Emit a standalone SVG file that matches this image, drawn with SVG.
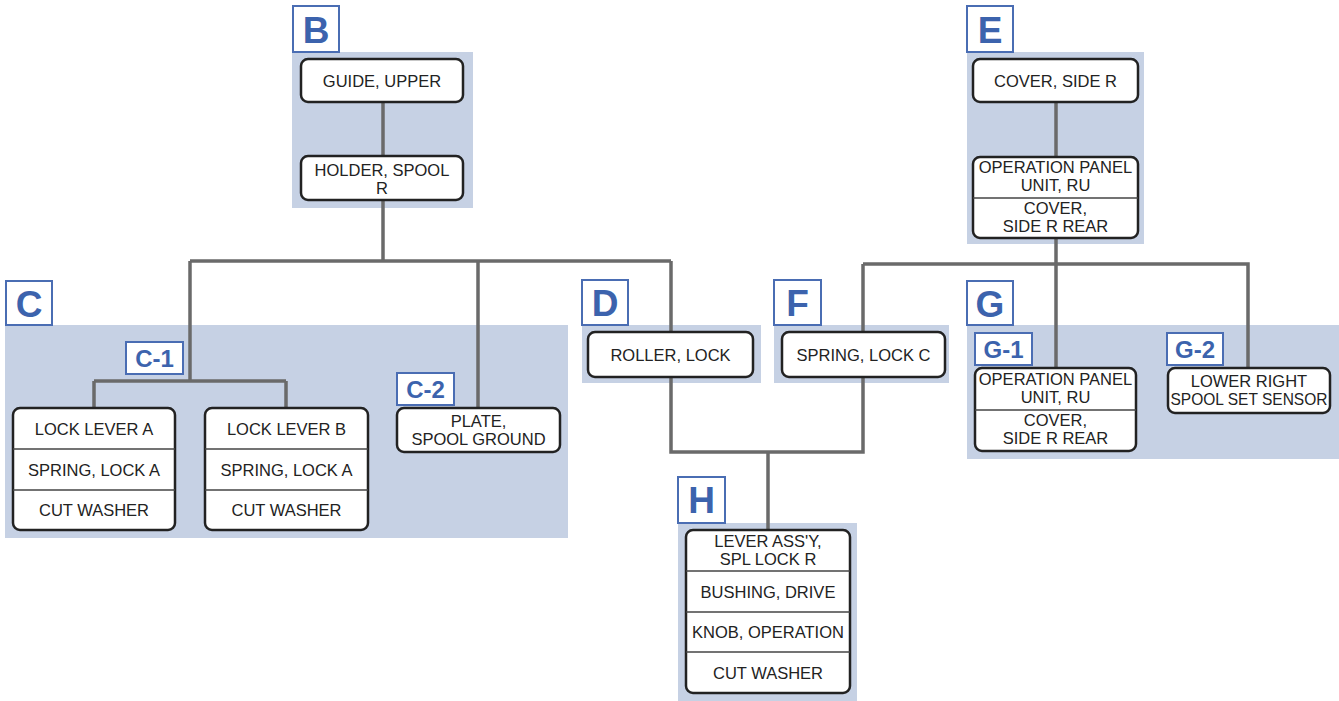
<svg xmlns="http://www.w3.org/2000/svg" width="1339" height="701" viewBox="0 0 1339 701">
  <style>
    .panel { fill: #c6d1e4; }
    .tag { fill: #ffffff; stroke: #4a6db3; stroke-width: 2; }
    .tagtxt { font-family: "Liberation Sans", Arial, sans-serif; font-weight: bold; fill: #3c63ad; text-anchor: middle; }
    .big { font-size: 37px; }
    .small { font-size: 24px; }
    .box { fill: #ffffff; stroke: #222222; stroke-width: 2.5; }
    .div { stroke: #444444; stroke-width: 1.5; }
    .txt { font-family: "Liberation Sans", Arial, sans-serif; font-size: 16.5px; fill: #222222; text-anchor: middle; }
    .wire { fill: none; stroke: #6a6a6a; stroke-width: 3.5; }
  </style>

  <!-- group backgrounds -->
  <g id="panels">
    <rect class="panel" x="292" y="52" width="181" height="156"/>
    <rect class="panel" x="5" y="325" width="563" height="213"/>
    <rect class="panel" x="582" y="325" width="179" height="58"/>
    <rect class="panel" x="774" y="325" width="175" height="58"/>
    <rect class="panel" x="967" y="52" width="177" height="192"/>
    <rect class="panel" x="967" y="325" width="372" height="134"/>
    <rect class="panel" x="678" y="523" width="179" height="178"/>
  </g>

  <!-- connectors -->
  <g id="connectors">
    <path class="wire" d="M383 102 V156"/>
    <path class="wire" d="M383 200 V261"/>
    <path class="wire" d="M190 261 H671"/>
    <path class="wire" d="M190 261 V381"/>
    <path class="wire" d="M94 381 H286"/>
    <path class="wire" d="M94 381 V408 M286 381 V408"/>
    <path class="wire" d="M478 261 V408"/>
    <path class="wire" d="M671 261 V332"/>
    <path class="wire" d="M671 377 V452 H863 V377"/>
    <path class="wire" d="M768 452 V530"/>
    <path class="wire" d="M1056 102 V157"/>
    <path class="wire" d="M1056 238 V368"/>
    <path class="wire" d="M863 264 H1248 V368"/>
    <path class="wire" d="M863 264 V332"/>
  </g>

  <!-- section tags -->
  <g id="tag-B"><rect class="tag" x="293" y="6" width="46" height="46"/><text class="tagtxt big" x="316" y="43">B</text></g>
  <g id="tag-C"><rect class="tag" x="6" y="281" width="46" height="44"/><text class="tagtxt big" x="29" y="317">C</text></g>
  <g id="tag-C1"><rect class="tag" x="126" y="342" width="57" height="32"/><text class="tagtxt small" x="154.5" y="367">C-1</text></g>
  <g id="tag-C2"><rect class="tag" x="397" y="373" width="57" height="32"/><text class="tagtxt small" x="425.5" y="398">C-2</text></g>
  <g id="tag-D"><rect class="tag" x="582" y="280" width="46" height="45"/><text class="tagtxt big" x="605" y="316">D</text></g>
  <g id="tag-F"><rect class="tag" x="774" y="280" width="47" height="45"/><text class="tagtxt big" x="797.5" y="316">F</text></g>
  <g id="tag-E"><rect class="tag" x="967" y="6" width="46" height="46"/><text class="tagtxt big" x="990" y="43">E</text></g>
  <g id="tag-G"><rect class="tag" x="967" y="281" width="46" height="44"/><text class="tagtxt big" x="990" y="317">G</text></g>
  <g id="tag-G1"><rect class="tag" x="975" y="333" width="57" height="32"/><text class="tagtxt small" x="1003.5" y="358">G-1</text></g>
  <g id="tag-G2"><rect class="tag" x="1167" y="333" width="56" height="32"/><text class="tagtxt small" x="1195" y="358">G-2</text></g>
  <g id="tag-H"><rect class="tag" x="678" y="477" width="47" height="46"/><text class="tagtxt big" x="701.5" y="513">H</text></g>

  <!-- part boxes -->
  <g id="guide-upper">
    <rect class="box" x="301" y="59" width="162" height="43" rx="7"/>
    <text class="txt" x="382" y="87">GUIDE, UPPER</text>
  </g>
  <g id="holder-spool-r">
    <rect class="box" x="301" y="156" width="162" height="44" rx="7"/>
    <text class="txt" x="382" y="176">HOLDER, SPOOL</text>
    <text class="txt" x="382" y="194">R</text>
  </g>

  <g id="lock-lever-a">
    <rect class="box" x="13" y="408" width="162" height="122" rx="7"/>
    <line class="div" x1="13" y1="449" x2="175" y2="449"/>
    <line class="div" x1="13" y1="490" x2="175" y2="490"/>
    <text class="txt" x="94" y="435">LOCK LEVER A</text>
    <text class="txt" x="94" y="476">SPRING, LOCK A</text>
    <text class="txt" x="94" y="516">CUT WASHER</text>
  </g>
  <g id="lock-lever-b">
    <rect class="box" x="205" y="408" width="163" height="122" rx="7"/>
    <line class="div" x1="205" y1="449" x2="368" y2="449"/>
    <line class="div" x1="205" y1="490" x2="368" y2="490"/>
    <text class="txt" x="286.5" y="435">LOCK LEVER B</text>
    <text class="txt" x="286.5" y="476">SPRING, LOCK A</text>
    <text class="txt" x="286.5" y="516">CUT WASHER</text>
  </g>
  <g id="plate-spool-ground">
    <rect class="box" x="397" y="408" width="163" height="44" rx="7"/>
    <text class="txt" x="478.5" y="427">PLATE,</text>
    <text class="txt" x="478.5" y="445">SPOOL GROUND</text>
  </g>

  <g id="roller-lock">
    <rect class="box" x="588" y="332" width="165" height="45" rx="7"/>
    <text class="txt" x="670.5" y="360.5">ROLLER, LOCK</text>
  </g>
  <g id="spring-lock-c">
    <rect class="box" x="782" y="332" width="163" height="45" rx="7"/>
    <text class="txt" x="863.5" y="360.5">SPRING, LOCK C</text>
  </g>

  <g id="cover-side-r">
    <rect class="box" x="973" y="59" width="165" height="43" rx="7"/>
    <text class="txt" x="1055.5" y="87">COVER, SIDE R</text>
  </g>
  <g id="operation-panel-e">
    <rect class="box" x="973" y="157" width="165" height="81" rx="7"/>
    <line class="div" x1="973" y1="198" x2="1138" y2="198"/>
    <text class="txt" x="1055.5" y="173">OPERATION PANEL</text>
    <text class="txt" x="1055.5" y="191">UNIT, RU</text>
    <text class="txt" x="1055.5" y="214">COVER,</text>
    <text class="txt" x="1055.5" y="232">SIDE R REAR</text>
  </g>

  <g id="operation-panel-g1">
    <rect class="box" x="975" y="368" width="161" height="83" rx="7"/>
    <line class="div" x1="975" y1="410" x2="1136" y2="410"/>
    <text class="txt" x="1055.5" y="385">OPERATION PANEL</text>
    <text class="txt" x="1055.5" y="403">UNIT, RU</text>
    <text class="txt" x="1055.5" y="426">COVER,</text>
    <text class="txt" x="1055.5" y="444">SIDE R REAR</text>
  </g>
  <g id="lower-right-sensor">
    <rect class="box" x="1168" y="368" width="162" height="45" rx="7"/>
    <text class="txt" x="1249" y="387">LOWER RIGHT</text>
    <text class="txt" x="1249" y="405" textLength="157" lengthAdjust="spacingAndGlyphs">SPOOL SET SENSOR</text>
  </g>

  <g id="lever-assy">
    <rect class="box" x="686" y="530" width="164" height="163" rx="7"/>
    <line class="div" x1="686" y1="571" x2="850" y2="571"/>
    <line class="div" x1="686" y1="612" x2="850" y2="612"/>
    <line class="div" x1="686" y1="652" x2="850" y2="652"/>
    <text class="txt" x="768" y="547">LEVER ASS'Y,</text>
    <text class="txt" x="768" y="565">SPL LOCK R</text>
    <text class="txt" x="768" y="598">BUSHING, DRIVE</text>
    <text class="txt" x="768" y="638">KNOB, OPERATION</text>
    <text class="txt" x="768" y="679">CUT WASHER</text>
  </g>
</svg>
